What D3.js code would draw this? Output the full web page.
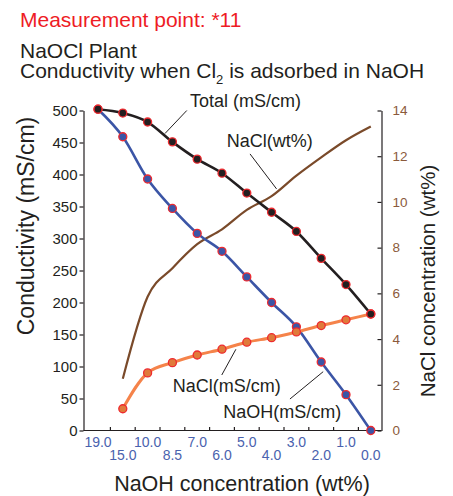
<!DOCTYPE html>
<html>
<head>
<meta charset="utf-8">
<script src="https://cdn.jsdelivr.net/npm/d3@7"></script>
<style>
html, body { margin: 0; padding: 0; background: #fff; }
svg text { font-family: "Liberation Sans", Arial, Helvetica, sans-serif; }
</style>
</head>
<body>
<div id="chart"></div>
<script>
// NaOH concentration (wt%) along the x axis
const naohLabels = ["19.0", "15.0", "10.0", "8.5", "7.0", "6.0", "5.0", "4.0", "3.0", "2.0", "1.0", "0.0"];
// conductivity (mS/cm), left axis
const totalMS = [502, 496, 482, 451, 424, 402, 371, 341, 311, 269, 228, 182];
const naohMS  = [502, 459, 393, 347, 308, 280, 240, 200, 162, 107, 56, 0];
const naclMS  = [null, 34, 90, 106, 118, 127, 138, 145, 154, 164, 173, 182];
// NaCl concentration (wt%), right axis
const naclWt  = [null, 2.26, 5.85, 7.1, 8.15, 8.8, 9.65, 10.25, 11.15, 11.95, 12.7, 13.3];
// tick labels
const condTicks = [0, 50, 100, 150, 200, 250, 300, 350, 400, 450, 500];
const wtTicks = [0, 2, 4, 6, 8, 10, 12, 14];

const W = 453, H = 496;
const axL = 83.5, axR = 381.5, axB = 430.5, axT = 110.5;
const ink = "#231f20";
const dotRed = "#ee2a2f";

const svg = d3.select("#chart").append("svg")
    .attr("width", W)
    .attr("height", H);

// scales
const x = d3.scaleBand().domain(naohLabels).range([85.6, 383.2]);
const yL = d3.scaleLinear().domain([0, 500]).range([axB, axT]);
const yR = d3.scaleLinear().domain([0, 14]).range([axB, axT]);
const xi = i => x(naohLabels[0]) + x.bandwidth() * (i + 0.5);

// titles
svg.append("text").attr("x", 20).attr("y", 27)
    .attr("font-size", 21).attr("fill", "#ee1c25")
    .text("Measurement point: *11");
svg.append("text").attr("x", 20).attr("y", 58)
    .attr("font-size", 21).attr("fill", ink)
    .text("NaOCl Plant");
const t3 = svg.append("text").attr("x", 20).attr("y", 77.5)
    .attr("font-size", 21).attr("fill", ink);
t3.append("tspan").text("Conductivity when Cl");
t3.append("tspan").attr("font-size", 13).attr("dy", 6).text("2");
t3.append("tspan").attr("dy", -6).text(" is adsorbed in NaOH");

// left axis
const gL = svg.append("g").attr("transform", `translate(${axL},0)`)
    .call(d3.axisLeft(yL).tickValues(condTicks).tickSize(4).tickSizeOuter(0).tickPadding(2));
gL.selectAll("text").attr("font-size", 15).attr("fill", ink);
gL.selectAll("line,path").attr("stroke", ink).attr("stroke-width", 1.2);

// right axis (ticks pointing inward)
const gR = svg.append("g").attr("transform", `translate(${axR},0)`)
    .call(d3.axisRight(yR).tickValues(wtTicks).tickSize(-4).tickSizeOuter(0).tickPadding(11));
gR.selectAll("text").attr("font-size", 13.5).attr("fill", "#8b5a3b");
gR.selectAll("line,path").attr("stroke", ink).attr("stroke-width", 1.2);

// bottom axis: ticks at band borders, labels staggered in two rows
const gB = svg.append("g");
gB.append("line").attr("x1", axL).attr("x2", axR).attr("y1", axB).attr("y2", axB)
    .attr("stroke", ink).attr("stroke-width", 1.2);
gB.selectAll(".tk").data(naohLabels.slice(1)).join("line")
    .attr("class", "tk")
    .attr("x1", d => x(d)).attr("x2", d => x(d))
    .attr("y1", axB).attr("y2", axB - 3.5)
    .attr("stroke", ink).attr("stroke-width", 1.2);
gB.selectAll(".lb").data(naohLabels).join("text")
    .attr("class", "lb")
    .attr("x", d => x(d) + x.bandwidth() / 2)
    .attr("y", (d, i) => i % 2 === 0 ? 447 : 460)
    .attr("text-anchor", "middle")
    .attr("font-size", 14)
    .attr("fill", "#4a62ae")
    .text(d => d);

// axis titles
svg.append("text")
    .attr("transform", "translate(34,226) rotate(-90)")
    .attr("text-anchor", "middle").attr("font-size", 23).attr("fill", ink)
    .text("Conductivity (mS/cm)");
svg.append("text")
    .attr("transform", "translate(435,281) rotate(-90)")
    .attr("text-anchor", "middle").attr("font-size", 20.5).attr("fill", ink)
    .text("NaCl concentration (wt%)");
svg.append("text")
    .attr("x", 242).attr("y", 491)
    .attr("text-anchor", "middle").attr("font-size", 21.5).attr("fill", ink)
    .text("NaOH concentration (wt%)");

// lines
function drawLine(vals, scale, color, width) {
    const line = d3.line()
        .defined(d => d != null)
        .x((d, i) => xi(i))
        .y(d => scale(d))
        .curve(d3.curveMonotoneX);
    svg.append("path")
        .datum(vals)
        .attr("d", line)
        .attr("fill", "none")
        .attr("stroke", color)
        .attr("stroke-width", width)
        .attr("stroke-linejoin", "round");
}
drawLine(naclWt, yR, "#7a4a2a", 2.2);
drawLine(naohMS, yL, "#3b55a6", 2.6);
drawLine(naclMS, yL, "#f5834a", 3);
drawLine(totalMS, yL, ink, 2.6);

// dots
function drawDots(vals, fill) {
    svg.append("g").selectAll("circle")
        .data(vals.map((v, i) => ({v, i})).filter(d => d.v != null))
        .join("circle")
        .attr("cx", d => xi(d.i))
        .attr("cy", d => yL(d.v))
        .attr("r", 4)
        .attr("fill", fill)
        .attr("stroke", dotRed)
        .attr("stroke-width", 1.3);
}
drawDots(naohMS, "#3b55a6");
drawDots(naclMS, "#e07a3a");
drawDots(totalMS, ink);

// callout labels with leader lines (positions in data space)
const notes = [
    {text: "Total (mS/cm)", sc: yL, at: [3.71, 505.5], from: [3.58, 500], to: [2.70, 464]},
    {text: "NaCl(wt%)", sc: yR, at: [5.19, 12.39], from: [6.13, 12.1], to: [7.2, 10.57]},
    {text: "NaCl(mS/cm)", sc: yL, at: [3.01, 60.6], from: [4.99, 86.7], to: [5.56, 126.9]},
    {text: "NaOH(mS/cm)", sc: yL, at: [5.05, 19], from: [7.74, 49.2], to: [9.08, 91.9]}
];
notes.forEach(n => {
    svg.append("line")
        .attr("x1", xi(n.from[0])).attr("y1", n.sc(n.from[1]))
        .attr("x2", xi(n.to[0])).attr("y2", n.sc(n.to[1]))
        .attr("stroke", ink).attr("stroke-width", 1);
    svg.append("text")
        .attr("x", xi(n.at[0])).attr("y", n.sc(n.at[1]))
        .attr("font-size", 18).attr("fill", ink)
        .text(n.text);
});
</script>
</body>
</html>
